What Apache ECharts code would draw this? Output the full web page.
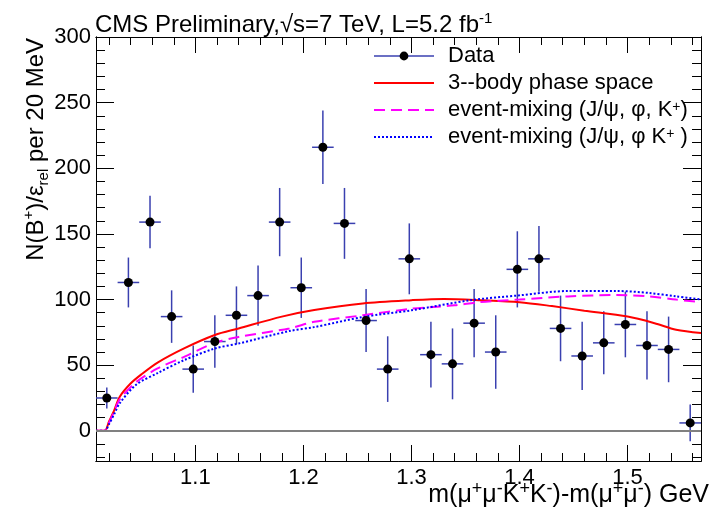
<!DOCTYPE html>
<html>
<head>
<meta charset="utf-8">
<script src="https://cdn.jsdelivr.net/npm/echarts@6/dist/echarts.min.js"></script>
<style>
  html, body { margin: 0; padding: 0; background: #fff; }
  #chart { width: 714px; height: 518px; }
</style>
</head>
<body>
<div id="chart"></div>
<script>
// bin centres (20 MeV bins) and efficiency-corrected yields
const binCenters = [1.018, 1.038, 1.058, 1.078, 1.098, 1.118, 1.138, 1.158, 1.178, 1.198,
  1.218, 1.238, 1.258, 1.278, 1.298, 1.318, 1.338, 1.358, 1.378, 1.398,
  1.418, 1.438, 1.458, 1.478, 1.498, 1.518, 1.538, 1.558];
const counts = [25, 113, 159, 87, 47, 68, 88, 103, 159, 109,
  216, 158, 84, 47, 131, 58, 51, 82, 60, 123,
  131, 78, 57, 67, 81, 65, 62, 6];
const errors = [8, 19, 20, 20, 18, 20, 22, 23, 26, 23,
  28, 27, 24, 25, 27, 25, 27, 26, 28, 29,
  25, 25, 26, 24, 25, 26, 25, 14];

// 3-body phase space
const phaseX = [1.008, 1.016, 1.020, 1.025, 1.030, 1.040, 1.050, 1.065, 1.090, 1.118, 1.140,
  1.180, 1.210, 1.255, 1.300, 1.330, 1.365, 1.400, 1.430, 1.460, 1.500, 1.525, 1.545, 1.568];
const phaseY = [0, 0, 7, 16, 26, 36, 43, 52, 63, 73, 78,
  87, 92, 97, 99.5, 100.5, 99.5, 98, 95, 91.5, 87, 82, 77, 74.5];

// event-mixing (J/psi, phi, K+)
const mixAX = [1.008, 1.016, 1.020, 1.025, 1.030, 1.045, 1.065, 1.090, 1.118, 1.140, 1.187,
  1.210, 1.255, 1.300, 1.340, 1.363, 1.400, 1.445, 1.490, 1.520, 1.545, 1.568];
const mixAY = [0, 0, 6, 15, 24, 37, 47.5, 56.5, 67, 71.5, 78,
  83, 88, 93, 95.6, 98, 100, 102.4, 103.4, 102.4, 100, 98];

// event-mixing (J/psi, phi K+)
const mixBX = [1.008, 1.016, 1.020, 1.025, 1.030, 1.045, 1.065, 1.090, 1.118, 1.140, 1.187,
  1.210, 1.255, 1.300, 1.354, 1.400, 1.445, 1.490, 1.520, 1.545, 1.568];
const mixBY = [0, 0, 5, 13, 21, 35, 44, 54, 62.7, 66.5, 76,
  79, 86.7, 91.8, 99.4, 103.2, 106.5, 106.5, 105, 102.4, 100];

const xMajorTicks = [1.1, 1.2, 1.3, 1.4, 1.5];
const xMinorTicks = [1.02, 1.04, 1.06, 1.08, 1.12, 1.14, 1.16, 1.18, 1.22, 1.24, 1.26, 1.28,
  1.32, 1.34, 1.36, 1.38, 1.42, 1.44, 1.46, 1.48, 1.52, 1.54, 1.56];
const yMajorTicks = [0, 50, 100, 150, 200, 250, 300];
const yMinorTicks = [-20, -10, 10, 20, 30, 40, 60, 70, 80, 90, 110, 120, 130, 140,
  160, 170, 180, 190, 210, 220, 230, 240, 260, 270, 280, 290];

const font = "'Liberation Sans', Arial, sans-serif";
const barColor = "#3a40b0";
const zip = (xs, ys) => xs.map((x, i) => [x, ys[i]]);

function xAxisDef(pos, ticks, len, labels) {
  return {
    type: "value", position: pos, min: 1.008, max: 1.568,
    axisLine: { show: true, onZero: false, lineStyle: { color: "#000", width: 1 } },
    axisTick: { show: true, inside: true, length: len, customValues: ticks, lineStyle: { color: "#000" } },
    axisLabel: labels
      ? { show: true, customValues: ticks, margin: 6, fontSize: 22, fontFamily: font, color: "#000",
          formatter: (v) => v.toFixed(1) }
      : { show: false },
    splitLine: { show: false },
  };
}
function yAxisDef(pos, ticks, len, labels) {
  return {
    type: "value", position: pos, min: -23, max: 300,
    axisLine: { show: true, onZero: false, lineStyle: { color: "#000", width: 1 } },
    axisTick: { show: true, inside: true, length: len, customValues: ticks, lineStyle: { color: "#000" } },
    axisLabel: labels
      ? { show: true, customValues: ticks, margin: 5, fontSize: 22, fontFamily: font, color: "#000" }
      : { show: false },
    splitLine: { show: false },
  };
}

const chart = echarts.init(document.getElementById("chart"));
const sup = (size) => ({ fontSize: size, verticalAlign: "top", lineHeight: size, fontFamily: font, color: "#000" });
const sub = (size) => ({ fontSize: size, verticalAlign: "bottom", lineHeight: size, fontFamily: font, color: "#000" });
const noSymbol = { opacity: 0 };

chart.setOption({
  animation: false,
  grid: { left: 96, right: 13, top: 37, bottom: 57 },
  xAxis: [
    xAxisDef("bottom", xMajorTicks, 16, true),
    xAxisDef("bottom", xMinorTicks, 8, false),
    xAxisDef("top", xMajorTicks, 16, false),
    xAxisDef("top", xMinorTicks, 8, false),
  ],
  yAxis: [
    yAxisDef("left", yMajorTicks, 18, true),
    yAxisDef("left", yMinorTicks, 9, false),
    yAxisDef("right", yMajorTicks, 18, false),
    yAxisDef("right", yMinorTicks, 9, false),
  ],
  legend: {
    orient: "vertical",
    left: 373, top: 45,
    padding: 0,
    itemWidth: 60, itemHeight: 11, itemGap: 5,
    textStyle: { fontSize: 22, fontFamily: font, color: "#000", lineHeight: 20, padding: [0, 0, 0, 9],
      rich: { sup: sup(14) } },
    formatter: (name) => name.replace(/K\+/g, "K{sup|+}"),
    data: [
      { name: "Data", itemStyle: { color: "#000" }, lineStyle: { color: barColor, width: 1.5, opacity: 1 } },
      { name: "3--body phase space", itemStyle: noSymbol },
      { name: "event-mixing (J/ψ, φ, K+)", itemStyle: noSymbol },
      { name: "event-mixing (J/ψ, φ K+ )", itemStyle: noSymbol },
    ],
  },
  graphic: [
    {
      type: "text", x: 95, y: 25,
      style: { text: "CMS Preliminary,√s=7 TeV, L=5.2 fb{sup|-1}", fontSize: 24, fontFamily: font,
        fill: "#000", verticalAlign: "middle", lineHeight: 28,
        rich: { sup: { fontSize: 15, verticalAlign: "top", lineHeight: 15, fontFamily: font, fill: "#000" } } },
    },
    {
      type: "text", x: 36, y: 38, rotation: Math.PI / 2,
      style: { text: "N(B{sup|+})/ε{sub|rel} per 20 MeV", fontSize: 24, fontFamily: font, fill: "#000",
        align: "right", verticalAlign: "middle", lineHeight: 30,
        rich: { sup: sup(15), sub: sub(15) } },
    },
    {
      type: "text", x: 709, y: 495,
      style: { text: "m(μ{sup|+}μ{sup|-}K{sup|+}K{sup|-})-m(μ{sup|+}μ{sup|-}) GeV", fontSize: 25,
        fontFamily: font, fill: "#000", align: "right", verticalAlign: "middle", lineHeight: 30,
        rich: { sup: sup(18) } },
    },
  ],
  series: [
    {
      name: "3--body phase space", type: "line", smooth: 0.3, symbol: "none",
      data: zip(phaseX, phaseY),
      lineStyle: { color: "#ff0000", width: 2 }, itemStyle: { color: "#ff0000" },
    },
    {
      name: "event-mixing (J/ψ, φ, K+)", type: "line", smooth: 0.3, symbol: "none",
      data: zip(mixAX, mixAY),
      lineStyle: { color: "#ff00ff", width: 2, type: [11, 6] }, itemStyle: { color: "#ff00ff" },
    },
    {
      name: "event-mixing (J/ψ, φ K+ )", type: "line", smooth: 0.3, symbol: "none",
      data: zip(mixBX, mixBY),
      lineStyle: { color: "#0000ff", width: 2, type: [2, 2] }, itemStyle: { color: "#0000ff" },
    },
    {
      type: "custom",
      data: binCenters.map((x, i) => [x, counts[i], errors[i]]),
      renderItem: (params, api) => {
        const x = api.value(0), y = api.value(1), e = api.value(2);
        const top = api.coord([x, y + e]);
        const bot = api.coord([x, y - e]);
        const lft = api.coord([x - 0.01, y]);
        const rgt = api.coord([x + 0.01, y]);
        const st = { stroke: barColor, lineWidth: 1.5 };
        return {
          type: "group",
          children: [
            { type: "line", shape: { x1: top[0], y1: top[1], x2: bot[0], y2: bot[1] }, style: st },
            { type: "line", shape: { x1: lft[0], y1: lft[1], x2: rgt[0], y2: rgt[1] }, style: st },
          ],
        };
      },
      markLine: {
        silent: true, symbol: "none", label: { show: false },
        lineStyle: { color: "#808080", width: 2, type: "solid" },
        data: [{ yAxis: 0 }],
      },
      z: 3,
    },
    {
      name: "Data", type: "line", symbol: "circle", symbolSize: 9, showAllSymbol: true,
      data: zip(binCenters, counts),
      itemStyle: { color: "#000" }, lineStyle: { opacity: 0 },
      z: 4,
    },
  ],
});
</script>
</body>
</html>
